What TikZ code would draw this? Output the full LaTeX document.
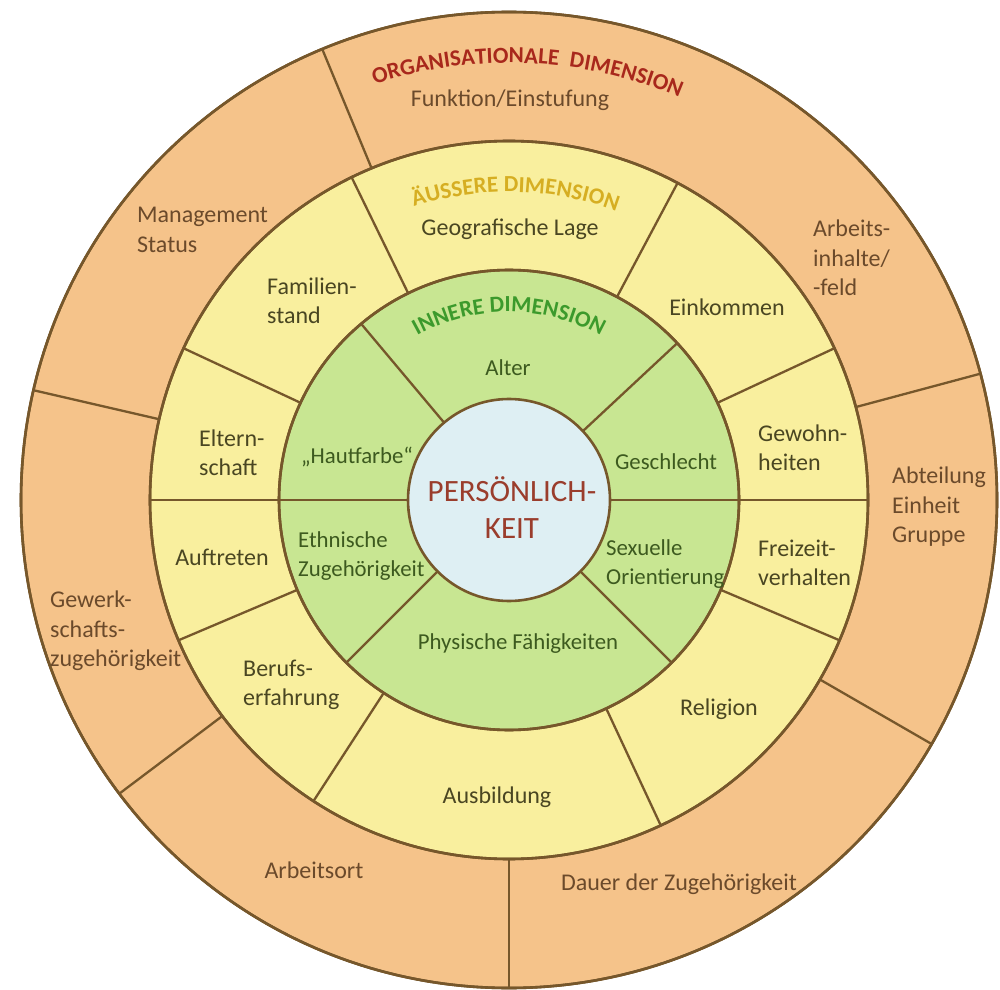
\documentclass[tikz,border=0pt]{standalone}
\usepackage{fontspec}
\setmainfont{Carlito}
\usetikzlibrary{calc,decorations.text}

% ring fills
\definecolor{orgfill}{HTML}{F5C38A}
\definecolor{ylwfill}{HTML}{F9EF9E}
\definecolor{grnfill}{HTML}{C8E692}
\definecolor{coref}{HTML}{DEEFF3}
\definecolor{ringline}{HTML}{76572B}
% text colours
\definecolor{orgtext}{HTML}{6B4A2B}
\definecolor{ylwtext}{HTML}{4A4622}
\definecolor{grntext}{HTML}{3D5A1F}
\definecolor{coretext}{HTML}{9A3D2C}
\definecolor{orgtitle}{HTML}{A8281C}
\definecolor{ylwtitle}{HTML}{D6AE22}
\definecolor{grntitle}{HTML}{3C9A2C}

\begin{document}
\begin{tikzpicture}[x=1pt,y=1pt,
  ring/.style={draw=ringline, line width=2.6pt},
  divider/.style={draw=ringline, line width=2.3pt},
  lbl/.style={inner sep=0pt, font=\fontsize{24}{29.5}\selectfont},
  orglabel/.style={lbl, text=orgtext},
  ylwlabel/.style={lbl, text=ylwtext},
  grnlabel/.style={inner sep=0pt, text=grntext, font=\fontsize{22.8}{29}\selectfont},
  leftblock/.style={anchor=west, align=left}]

\useasboundingbox (0,0) rectangle (1000,989);
\fill[white] (0,0) rectangle (1000,989);
\coordinate (C) at (509,489);

% concentric rings, outer to inner
\filldraw[ring, fill=orgfill] (C) circle[radius=488];
\filldraw[ring, fill=ylwfill] (C) circle[radius=359];
\filldraw[ring, fill=grnfill] (C) circle[radius=230];

% sector dividers of each ring
\foreach \a in {15,112.5,167,217,270,330}
  \draw[divider] ($(C)+(\a:359)$) -- ($(C)+(\a:488)$);
\foreach \a in {0,25,62,116,155,180,203,237,295,337}
  \draw[divider] ($(C)+(\a:230)$) -- ($(C)+(\a:359)$);
\foreach \a in {0,43,130,180,225,315}
  \draw[divider] ($(C)+(\a:101)$) -- ($(C)+(\a:230)$);

% ring borders on top of the divider ends
\draw[ring] (C) circle[radius=488];
\draw[ring] (C) circle[radius=359];
\draw[ring] (C) circle[radius=230];
\filldraw[ring, fill=coref] (C) circle[radius=101];

% curved ring titles
\path[decorate, decoration={text along path, text align=center,
  text={|\fontsize{23}{28}\selectfont\bfseries\color{orgtitle}|ORGANISATIONALE{\ \ }DIMENSION}}]
  ($(C)+(147.5:437)$) arc[start angle=147.5, end angle=27.5, radius=437];
\path[decorate, decoration={text along path, text align=center,
  text={|\fontsize{23}{28}\selectfont\bfseries\color{ylwtitle}|ÄUSSERE DIMENSION}}]
  ($(C)+(148.8:308)$) arc[start angle=148.8, end angle=28.8, radius=308];
\path[decorate, decoration={text along path, text align=center,
  text={|\fontsize{23}{28}\selectfont\bfseries\color{grntitle}|INNERE DIMENSION}}]
  ($(C)+(170:188)$) arc[start angle=170, end angle=10, radius=188];

% organisational dimension
\node[orglabel] (funktion) at (510,889) {Funktion/Einstufung};
\node[orglabel, leftblock] (management) at (137,759) {Management\\Status};
\node[orglabel, leftblock] (arbeitsinhalte) at (813,731) {Arbeits-\\inhalte/\\-feld};
\node[orglabel, leftblock] (abteilung) at (892,482) {Abteilung\\Einheit\\Gruppe};
\node[orglabel, leftblock] (gewerkschaft) at (50,358) {Gewerk-\\schafts-\\zugehörigkeit};
\node[orglabel] (arbeitsort) at (314,119) {Arbeitsort};
\node[orglabel] (dauer) at (679,105) {Dauer der Zugehörigkeit};

% outer dimension
\node[ylwlabel] (geografie) at (510,760) {Geografische Lage};
\node[ylwlabel, leftblock] (familienstand) at (267,688) {Familien-\\stand};
\node[ylwlabel] (einkommen) at (727,682) {Einkommen};
\node[ylwlabel, leftblock] (elternschaft) at (199,536) {Eltern-\\schaft};
\node[ylwlabel, leftblock] (gewohnheiten) at (758,541) {Gewohn-\\heiten};
\node[ylwlabel] (auftreten) at (222,432) {Auftreten};
\node[ylwlabel, leftblock] (freizeit) at (758,426) {Freizeit-\\verhalten};
\node[ylwlabel, leftblock] (beruf) at (243,304) {Berufs-\\erfahrung};
\node[ylwlabel] (ausbildung) at (497,192) {Ausbildung};
\node[ylwlabel] (religion) at (719,280) {Religion};

% inner dimension
\node[grnlabel] (alter) at (508,621) {Alter};
\node[grnlabel] (hautfarbe) at (357,532) {„Hautfarbe“};
\node[grnlabel] (geschlecht) at (666,527) {Geschlecht};
\node[grnlabel, leftblock] (ethnie) at (298,433) {Ethnische\\Zugehörigkeit};
\node[grnlabel, leftblock] (orientierung) at (606,425) {Sexuelle\\Orientierung};
\node[grnlabel] (physis) at (518,345) {Physische Fähigkeiten};

% core
\node[inner sep=0pt, text=coretext, align=center,
  font=\fontsize{31}{37}\selectfont] (kern) at (512,481) {PERSÖNLICH-\\KEIT};
\end{tikzpicture}
\end{document}
